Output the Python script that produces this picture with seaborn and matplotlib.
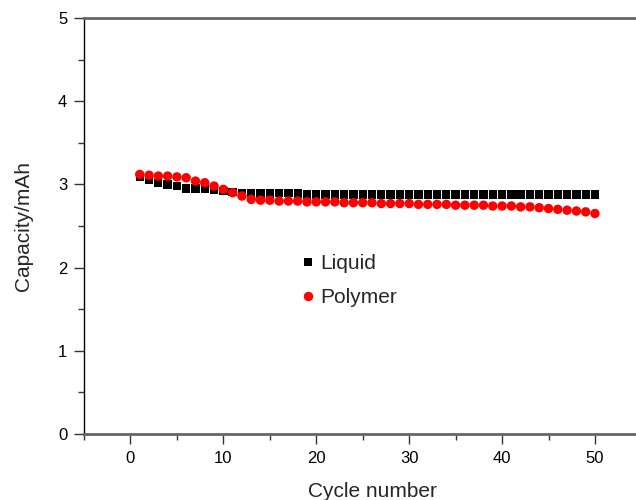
import matplotlib
matplotlib.use("Agg")
import matplotlib.pyplot as plt
from matplotlib.ticker import MultipleLocator
import seaborn as sns
import pandas as pd

cycles = list(range(1, 51))
liquid = [3.09, 3.05, 3.02, 3.00, 2.98, 2.95, 2.95, 2.95, 2.93, 2.92,
          2.91, 2.90, 2.89, 2.89, 2.89, 2.90, 2.90, 2.89, 2.88, 2.88,
          2.88, 2.88, 2.88, 2.88, 2.88, 2.88, 2.88, 2.88, 2.88, 2.88,
          2.88, 2.88, 2.88, 2.88, 2.88, 2.88, 2.88, 2.88, 2.88, 2.88,
          2.88, 2.88, 2.88, 2.88, 2.88, 2.88, 2.88, 2.88, 2.88, 2.88]
polymer = [3.12, 3.11, 3.10, 3.10, 3.09, 3.08, 3.04, 3.02, 2.98, 2.94,
           2.90, 2.86, 2.82, 2.81, 2.81, 2.80, 2.80, 2.80, 2.79, 2.79,
           2.79, 2.79, 2.78, 2.78, 2.78, 2.78, 2.77, 2.77, 2.77, 2.77,
           2.76, 2.76, 2.76, 2.76, 2.75, 2.75, 2.75, 2.75, 2.74, 2.74,
           2.74, 2.73, 2.73, 2.72, 2.71, 2.70, 2.69, 2.68, 2.67, 2.65]
series_names = ["Liquid", "Polymer"]

df = pd.DataFrame({
    "Cycle": cycles * 2,
    "Capacity": liquid + polymer,
    "Series": [series_names[0]] * len(cycles) + [series_names[1]] * len(cycles),
})

sns.set_style("white")
plt.rcParams["font.family"] = ["Liberation Sans", "DejaVu Sans"]

fig = plt.figure(figsize=(6.36, 5.0), dpi=100)
ax = fig.add_axes([84 / 636, 66 / 500, (660 - 84) / 636, (434 - 18) / 500])

sns.scatterplot(data=df, x="Cycle", y="Capacity", hue="Series", style="Series",
                palette={"Liquid": "black", "Polymer": "#ff0000"},
                markers={"Liquid": "s", "Polymer": "o"},
                size="Series", sizes={"Liquid": 36, "Polymer": 46},
                linewidth=0, ax=ax, legend=True)

ax.set_xlim(-5, 57)
ax.set_ylim(0, 5)
ax.xaxis.set_major_locator(MultipleLocator(10))
ax.xaxis.set_minor_locator(MultipleLocator(5))
ax.yaxis.set_major_locator(MultipleLocator(1))
ax.yaxis.set_minor_locator(MultipleLocator(0.5))
ax.tick_params(axis="both", which="major", direction="out", length=7, width=1,
               color="#333333", labelsize=12, labelcolor="black", pad=5,
               bottom=True, left=True)
ax.tick_params(axis="both", which="minor", direction="out", length=4, width=1,
               color="#333333", bottom=True, left=True)

for side in ["top", "bottom"]:
    ax.spines[side].set_color("#666666")
    ax.spines[side].set_linewidth(2)
ax.spines["left"].set_color("black")
ax.spines["left"].set_linewidth(1)
ax.spines["right"].set_visible(False)

ax.set_xlabel("Cycle number", fontsize=15, labelpad=12)
ax.set_ylabel("Capacity/mAh", fontsize=15, labelpad=18)

handles, labels = ax.get_legend_handles_labels()
leg = ax.legend(handles, labels, loc="center left", bbox_to_anchor=(0.342, 0.368),
                frameon=False, fontsize=15, handlelength=0.8, handletextpad=0.2,
                labelspacing=0.72, markerscale=1.0)

fig.savefig("out.png", dpi=100)
